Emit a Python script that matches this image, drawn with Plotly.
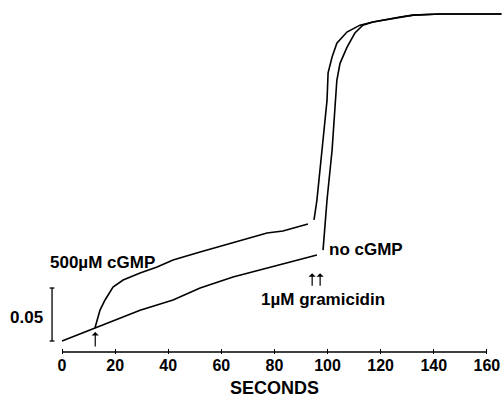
import plotly.graph_objects as go

# ---- data (seconds, absorbance-like units) ----
t_nocgmp_base = [0, 12.4, 29.4, 41.8, 52.0, 64.4, 77.2, 89.6, 96.0]
v_nocgmp_base = [0, 0.0123, 0.029, 0.0387, 0.0500, 0.0604, 0.0689, 0.0774, 0.0811]
t_nocgmp_rise = [98.3, 99.8, 101.7, 102.8, 103.5, 104.7, 107.3, 110.3, 113.3, 117.1, 127.3, 132.2, 142.3, 165.5]
v_nocgmp_rise = [0.0858, 0.133, 0.180, 0.227, 0.246, 0.262, 0.277, 0.2906, 0.298, 0.301, 0.3057, 0.3075, 0.3085, 0.3085]

t_cgmp_base = [12.4, 13.2, 14.3, 16.2, 19.2, 23.0, 29.4, 35.8, 41.8, 52.0, 64.4, 77.2, 83.2, 92.6]
v_cgmp_base = [0.0123, 0.0198, 0.0292, 0.0387, 0.0509, 0.0575, 0.0642, 0.0698, 0.0764, 0.0840, 0.0925, 0.1019, 0.1038, 0.1104]
t_cgmp_rise = [94.9, 96.0, 97.9, 99.8, 100.2, 101.7, 103.5, 107.3, 112.2, 117.1, 127.3, 132.2, 142.3, 165.5]
v_cgmp_rise = [0.1142, 0.133, 0.180, 0.227, 0.253, 0.268, 0.281, 0.2915, 0.298, 0.301, 0.3057, 0.3075, 0.3085, 0.3085]

x_ticks = [0, 20, 40, 60, 80, 100, 120, 140, 160]
scale_bar = [0, 0.05]
cgmp_arrow_t = 12.5
gramicidin_arrow_t = [94.2, 97.2]

FONT = "Liberation Sans, Arial, Helvetica, sans-serif"
LW = 1.6
Y_RANGE = [-0.01226, 0.3123]
AXIS_V = -0.01038

fig = go.Figure()
fig.add_trace(go.Scatter(x=t_nocgmp_base + [None] + t_nocgmp_rise,
                         y=v_nocgmp_base + [None] + v_nocgmp_rise,
                         mode="lines", line=dict(color="black", width=LW),
                         connectgaps=False, showlegend=False))
fig.add_trace(go.Scatter(x=t_cgmp_base + [None] + t_cgmp_rise,
                         y=v_cgmp_base + [None] + v_cgmp_rise,
                         mode="lines", line=dict(color="black", width=LW),
                         connectgaps=False, showlegend=False))

# scale bar (0.05 units)
bar_x = -3.76
cap = 0.9
fig.add_trace(go.Scatter(x=[bar_x - cap, bar_x + cap, None, bar_x, bar_x, None, bar_x - cap, bar_x + cap],
                         y=[scale_bar[1], scale_bar[1], None, scale_bar[0], scale_bar[1], None, scale_bar[0], scale_bar[0]],
                         mode="lines", line=dict(color="black", width=1.3), showlegend=False))

# x axis baseline from 0 to 160
fig.add_shape(type="line", xref="x", yref="y", x0=x_ticks[0], x1=x_ticks[-1], y0=AXIS_V, y1=AXIS_V,
              line=dict(color="black", width=1.5))

tf = dict(family=FONT, size=16, color="black", weight=700)
af = dict(family=FONT, size=17, color="black", weight=700)

def arrow(xv, head_v, tail_px):
    fig.add_annotation(x=xv, y=head_v, ax=0, ay=tail_px, text="", showarrow=True,
                       arrowhead=1, arrowsize=1, arrowwidth=1.2, arrowcolor="black")

arrow(cgmp_arrow_t, 0.0085, 16)
for g in gramicidin_arrow_t:
    arrow(g, 0.064, 14)

fig.add_annotation(x=15.1, y=0.0745, text="500µM cGMP", showarrow=False, font=af, xanchor="center", yanchor="middle")
fig.add_annotation(x=99.8, y=0.0868, text="no cGMP", showarrow=False, font=af, xanchor="left", yanchor="middle")
fig.add_annotation(x=74.0, y=0.0387, text="1µM gramicidin", showarrow=False, font=af, xanchor="left", yanchor="middle")
fig.add_annotation(x=-6.6, y=0.0226, text="0.05", showarrow=False, font=af, xanchor="right", yanchor="middle")
fig.add_annotation(x=80.2, xref="x", y=-0.099, yref="paper", text="SECONDS", showarrow=False,
                   font=dict(family=FONT, size=18, color="black", weight=700),
                   xanchor="center", yanchor="middle")

fig.update_xaxes(range=[-8.3, 165.7], tickvals=x_ticks, ticktext=[str(v) for v in x_ticks],
                 ticks="inside", ticklen=5, tickwidth=1.3, tickcolor="black",
                 showline=False, showgrid=False, zeroline=False, tickfont=tf)
fig.update_yaxes(range=Y_RANGE, visible=False, showgrid=False, zeroline=False)

fig.update_layout(width=502, height=400, margin=dict(l=40, r=0, t=10, b=46),
                  plot_bgcolor="white", paper_bgcolor="white", showlegend=False,
                  hovermode=False)

fig.write_html("out.html", config={"displayModeBar": False},
               post_script="document.body.style.margin='0';document.body.style.overflow='hidden';")
